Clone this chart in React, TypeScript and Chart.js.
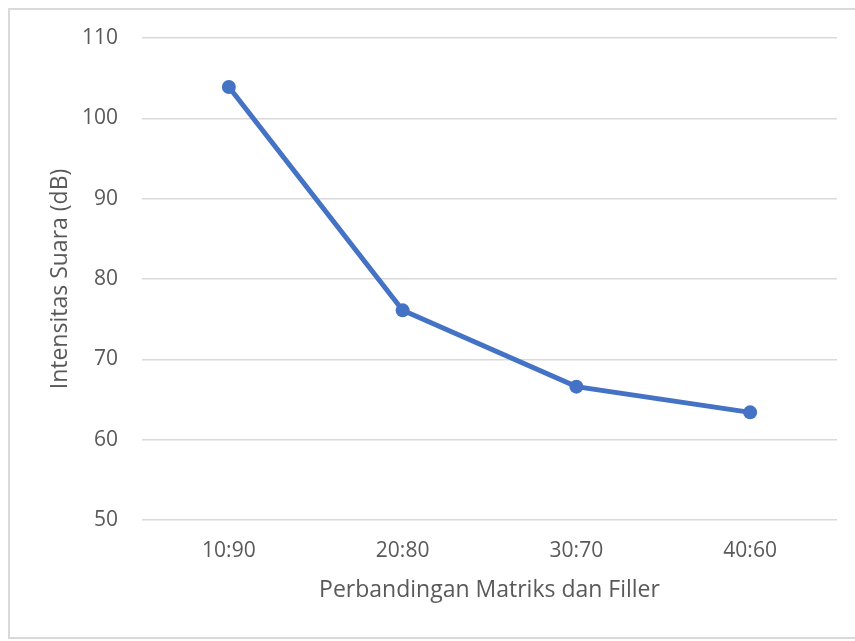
import React, { useEffect, useRef } from "react";
import { Chart, registerables } from "chart.js";

Chart.register(...registerables);

const categories = ["10:90", "20:80", "30:70", "40:60"];
const intensity = [103.9, 76.1, 66.6, 63.4];
const yMin = 50;
const yMax = 110;
const yStep = 10;
const xTitle = "Perbandingan Matriks dan Filler";
const yTitle = "Intensitas Suara (dB)";

const TEXT = "#595959";
const GRID = "#d9d9d9";
const LINE = "#4472C4";
const FONT = "'Open Sans', sans-serif";

export default function App() {
  const ref = useRef<HTMLCanvasElement | null>(null);

  useEffect(() => {
    if (!ref.current) return;
    const chart = new Chart(ref.current, {
      type: "line",
      data: {
        labels: categories,
        datasets: [
          {
            data: intensity,
            borderColor: LINE,
            backgroundColor: LINE,
            borderWidth: 5,
            pointRadius: 7,
            pointBackgroundColor: LINE,
            pointBorderColor: LINE,
            pointBorderWidth: 0,
            tension: 0,
          },
        ],
      },
      options: {
        responsive: false,
        animation: false,
        devicePixelRatio: 1,
        layout: { padding: { top: 38, right: 18, left: 0, bottom: 0 } },
        plugins: {
          legend: { display: false },
          tooltip: { enabled: false },
        },
        scales: {
          x: {
            type: "category",
            offset: true,
            grid: { display: false, drawTicks: false },
            border: { display: false },
            ticks: {
              color: TEXT,
              font: { family: FONT, size: 21 },
              padding: 18,
              maxRotation: 0,
            },
            title: {
              display: true,
              text: xTitle,
              color: TEXT,
              font: { family: FONT, size: 23 },
              padding: { top: 0, bottom: 37 },
            },
            afterFit: (scale: any) => {
              scale.height = 121;
            },
          },
          y: {
            min: yMin,
            max: yMax,
            grid: { color: GRID, lineWidth: 1.5, drawTicks: false },
            border: { display: false },
            ticks: {
              stepSize: yStep,
              color: TEXT,
              font: { family: FONT, size: 21 },
              padding: 24,
            },
            title: {
              display: true,
              text: yTitle,
              color: TEXT,
              font: { family: FONT, size: 23 },
              padding: { top: 47, bottom: 0 },
            },
            afterFit: (scale: any) => {
              scale.width = 142;
            },
          },
        },
      },
    });
    return () => chart.destroy();
  }, []);

  return (
    <>
      <div
        style={{
          position: "fixed",
          left: 8,
          top: 8,
          width: 870,
          height: 631,
          boxSizing: "border-box",
          border: "2px solid #d9d9d9",
          background: "#ffffff",
        }}
      />
      <canvas
        ref={ref}
        width={855}
        height={641}
        style={{ position: "fixed", left: 0, top: 0, width: 855, height: 641 }}
      />
    </>
  );
}
